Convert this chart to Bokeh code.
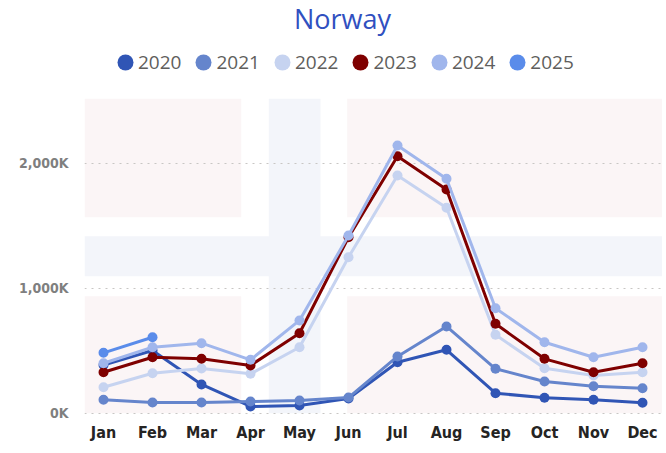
from bokeh.plotting import figure
from bokeh.models import Range1d, FixedTicker, Legend, LegendItem, Label
from bokeh.embed import file_html
from bokeh.resources import INLINE

# ---------------- data ----------------
months = ["Jan", "Feb", "Mar", "Apr", "May", "Jun", "Jul", "Aug", "Sep", "Oct", "Nov", "Dec"]
years = ["2020", "2021", "2022", "2023", "2024", "2025"]
v2020 = [385000, 502000, 230000, 54000, 62000, 118000, 408000, 507000, 160000, 123000, 107000, 83000]
v2021 = [107000, 86000, 86000, 94000, 102000, 125000, 454000, 694000, 355000, 254000, 216000, 200000]
v2022 = [208000, 320000, 358000, 315000, 528000, 1248000, 1902000, 1643000, 627000, 360000, 302000, 328000]
v2023 = [328000, 448000, 435000, 382000, 640000, 1408000, 2056000, 1790000, 715000, 435000, 328000, 400000]
v2024 = [400000, 528000, 560000, 427000, 742000, 1422000, 2142000, 1875000, 840000, 568000, 448000, 528000]
v2025 = [483000, 608000]
y_ticks = [0, 1000000, 2000000]
y_tick_labels = ["0K", "1,000K", "2,000K"]

series = [v2020, v2021, v2022, v2023, v2024, v2025]
colors = ["#3055b5", "#6585cc", "#c6d3f0", "#7f0000", "#a0b6ec", "#5a8cea"]

# ---------------- figure ----------------
p = figure(width=662, height=445, output_backend="svg", toolbar_location=None,
           x_range=Range1d(-0.388, 11.408), y_range=Range1d(-18400, 3301600),
           min_border_left=84, min_border_right=0, min_border_top=0, min_border_bottom=30)
p.outline_line_color = None
p.background_fill_color = "white"
p.border_fill_color = "white"

# decorative pale Norwegian flag behind the plot
pink = "#fbf5f6"
blue = "#f3f5fa"
fx = [-0.388, 2.81, 3.373, 4.429, 4.973, 11.41]
fy = [0, 936000, 1096000, 1416000, 1568000, 2515000]
p.quad(left=[fx[0], fx[4], fx[0], fx[4]], right=[fx[1], fx[5], fx[1], fx[5]],
       bottom=[fy[4], fy[4], fy[0], fy[0]], top=[fy[5], fy[5], fy[1], fy[1]],
       fill_color=pink, line_color=None, level="image")
p.quad(left=[fx[2], fx[0]], right=[fx[3], fx[5]],
       bottom=[fy[0], fy[2]], top=[fy[5], fy[3]],
       fill_color=blue, line_color=None, level="image")

xs = list(range(len(months)))
items = []
for yr, vals, col in zip(years, series, colors):
    xx = xs[:len(vals)]
    p.line(xx, vals, line_width=3, line_color=col)
    mk = p.ellipse(xx, vals, width=10, height=10, width_units="screen",
                   height_units="screen", fill_color=col, line_color=None)
    items.append(LegendItem(label=yr, renderers=[mk]))

legend = Legend(items=items, orientation="horizontal", location=(31, 340),
                glyph_width=20, glyph_height=24, label_height=24,
                label_standoff=3, spacing=12,
                padding=0, margin=0, border_line_color=None, background_fill_alpha=0,
                label_text_font="Open Sans", label_text_font_size="19px",
                label_text_color="#605e5c")
p.add_layout(legend)

title = Label(x=258, y=397, x_units="screen", y_units="screen", text="Norway",
              text_align="center", text_baseline="alphabetic",
              text_font="Open Sans", text_font_size="27px", text_color="#3050c0")
p.add_layout(title)

# axes
xt = FixedTicker(ticks=xs)
p.xaxis.ticker = xt
p.xaxis.major_label_overrides = {i: m for i, m in enumerate(months)}
yt = FixedTicker(ticks=y_ticks)
p.yaxis.ticker = yt
p.ygrid.ticker = yt
p.yaxis.major_label_overrides = {t: l for t, l in zip(y_ticks, y_tick_labels)}

for ax in (p.xaxis, p.yaxis):
    ax.axis_line_color = None
    ax.major_tick_line_color = None
    ax.minor_tick_line_color = None
    ax.major_tick_out = 0
    ax.major_tick_in = 0
    ax.major_label_text_font = "DejaVu Sans Condensed"
    ax.major_label_text_font_style = "bold"

p.xaxis.major_label_text_font_size = "16px"
p.xaxis.major_label_text_color = "#252423"
p.xaxis.major_label_standoff = 7
p.yaxis.major_label_text_font_size = "14px"
p.yaxis.major_label_text_color = "#7f7f7f"
p.yaxis.major_label_standoff = 16

p.xgrid.visible = False
p.ygrid.grid_line_color = "#c8c6c4"
p.ygrid.grid_line_dash = "2 5"
p.ygrid.grid_line_width = 1

open("out.html", "w").write(file_html(p, INLINE))
